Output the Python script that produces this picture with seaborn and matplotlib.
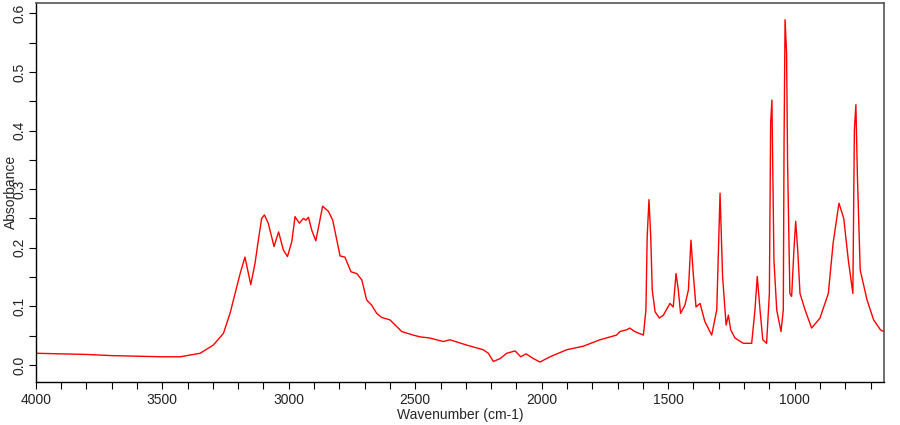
import pandas as pd
import matplotlib
matplotlib.use("Agg")
import matplotlib.pyplot as plt
import seaborn as sns
from matplotlib.ticker import MultipleLocator

# IR spectrum
wavenumber = [4000, 3900, 3800, 3700, 3600, 3500, 3429, 3350, 3298, 3258, 3232, 3212,
              3192, 3173, 3150, 3133, 3120, 3107, 3096, 3081, 3058, 3040, 3021, 3005,
              2988, 2975, 2958, 2942, 2932, 2922, 2909, 2893, 2879, 2866, 2843, 2826,
              2810, 2797, 2778, 2754, 2731, 2711, 2692, 2672, 2652, 2632, 2600, 2553,
              2508, 2481, 2442, 2389, 2363, 2297, 2231, 2211, 2191, 2164, 2138, 2105,
              2083, 2062, 2033, 2007, 1967, 1901, 1836, 1770, 1704, 1691, 1664, 1652,
              1632, 1598, 1588, 1583, 1576, 1569, 1563, 1552, 1535, 1519, 1493, 1480,
              1469, 1460, 1451, 1434, 1420, 1410, 1401, 1390, 1374, 1355, 1328, 1308,
              1295, 1285, 1271, 1262, 1253, 1236, 1203, 1170, 1157, 1148, 1137, 1126,
              1111, 1100, 1095, 1090, 1082, 1071, 1054, 1045, 1042, 1038, 1032, 1028,
              1019, 1012, 1003, 996, 988, 979, 959, 933, 900, 867, 848, 825,
              806, 788, 770, 764, 758, 752, 741, 714, 688, 661, 648]
absorbance = [0.020, 0.019, 0.018, 0.016, 0.015, 0.014, 0.014, 0.020, 0.034, 0.054, 0.088, 0.122,
              0.156, 0.184, 0.137, 0.174, 0.213, 0.250, 0.256, 0.242, 0.202, 0.227, 0.196, 0.185,
              0.210, 0.253, 0.242, 0.250, 0.247, 0.252, 0.230, 0.212, 0.242, 0.271, 0.262, 0.247,
              0.213, 0.186, 0.184, 0.159, 0.156, 0.145, 0.111, 0.102, 0.088, 0.081, 0.077, 0.057,
              0.051, 0.048, 0.046, 0.040, 0.043, 0.034, 0.026, 0.020, 0.006, 0.011, 0.020, 0.024,
              0.014, 0.019, 0.011, 0.005, 0.014, 0.026, 0.032, 0.043, 0.051, 0.057, 0.060, 0.063,
              0.057, 0.051, 0.094, 0.219, 0.282, 0.219, 0.128, 0.091, 0.080, 0.085, 0.105, 0.099,
              0.156, 0.128, 0.088, 0.102, 0.128, 0.213, 0.156, 0.099, 0.105, 0.074, 0.051, 0.094,
              0.293, 0.151, 0.068, 0.085, 0.060, 0.046, 0.037, 0.037, 0.094, 0.151, 0.094, 0.043,
              0.037, 0.122, 0.412, 0.452, 0.179, 0.094, 0.057, 0.094, 0.378, 0.589, 0.532, 0.344,
              0.122, 0.117, 0.196, 0.245, 0.196, 0.122, 0.094, 0.063, 0.080, 0.122, 0.208, 0.276,
              0.250, 0.179, 0.122, 0.401, 0.444, 0.321, 0.162, 0.111, 0.077, 0.060, 0.057]

df = pd.DataFrame({"wavenumber": wavenumber, "absorbance": absorbance})

sns.set_style("ticks")
plt.rcParams["font.family"] = ["Liberation Sans", "DejaVu Sans"]

fig = plt.figure(figsize=(9, 4.25), dpi=100)
ax = fig.add_axes([0.0397, 0.1019, 0.9425, 0.8917])

sns.lineplot(data=df, x="wavenumber", y="absorbance", ax=ax, color="red",
             linewidth=1.0, estimator=None, sort=False)

ax.set_xlim(4000, 647)
ax.set_ylim(-0.0285, 0.618)
ax.xaxis.set_major_locator(MultipleLocator(500))
ax.xaxis.set_minor_locator(MultipleLocator(100))
ax.yaxis.set_major_locator(MultipleLocator(0.1))
ax.yaxis.set_minor_locator(MultipleLocator(0.05))
ax.set_yticks([0.0, 0.1, 0.2, 0.3, 0.4, 0.5, 0.6])
ax.set_yticklabels(["0.0", "0.1", "0.2", "0.3", "0.4", "0.5", "0.6"],
                   rotation=90, va="center")

ax.tick_params(axis="both", which="both", direction="out", length=5, width=0.8,
               color="black", labelsize=10, labelcolor="#222222")
ax.tick_params(axis="y", pad=2)
ax.tick_params(axis="x", pad=3)

for side in ["left", "bottom"]:
    ax.spines[side].set_color("black")
    ax.spines[side].set_linewidth(1.0)
for side in ["top", "right"]:
    ax.spines[side].set_visible(True)
    ax.spines[side].set_color("#555555")
    ax.spines[side].set_linewidth(1.2)

ax.set_xlabel("Wavenumber (cm-1)", fontsize=10, labelpad=1)
ax.set_ylabel("Absorbance", fontsize=10, labelpad=-4)

fig.savefig("out.png", dpi=100)
